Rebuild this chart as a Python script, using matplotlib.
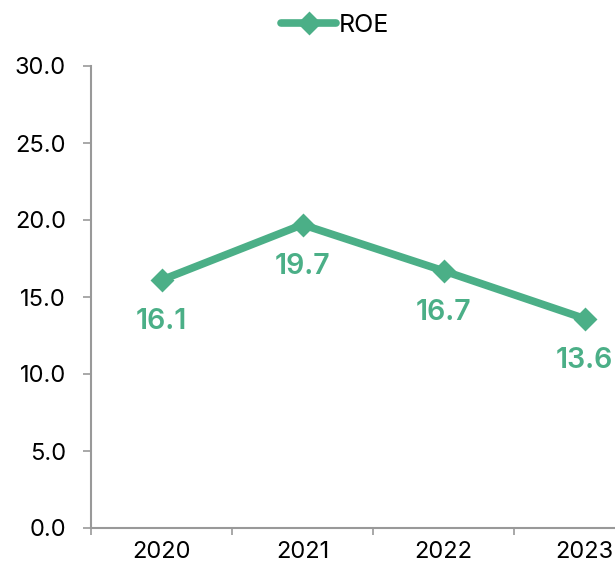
import matplotlib
matplotlib.use("Agg")
import matplotlib.pyplot as plt

years = ["2020", "2021", "2022", "2023"]
roe = [16.1, 19.7, 16.7, 13.6]
yticks = [0, 5, 10, 15, 20, 25, 30]

green = "#4BAF87"
plt.rcParams['font.family'] = ['Inter', 'DejaVu Sans']

fig = plt.figure(figsize=(6.15, 5.72), dpi=100)
W, H = 615, 572
left, right = 91, 655
bottom, top = 572 - 528, 572 - 66
ax = fig.add_axes([left / W, bottom / H, (right - left) / W, (top - bottom) / H])

x = list(range(len(years)))
ax.plot(x, roe, color=green, lw=5.5, marker="D", markersize=10,
        markerfacecolor=green, markeredgecolor=green, markeredgewidth=2,
        solid_capstyle="round", solid_joinstyle="round",
        label="ROE", clip_on=False, zorder=3)

for xi, v in zip(x, roe):
    ax.annotate(f"{v:.1f}", (xi, v), xytext=(0, -30), textcoords="offset points",
                ha="center", va="center", color=green, fontsize=20.5, fontweight="semibold")

ax.set_xlim(-0.5, 3.5)
ax.set_ylim(0, 30)
ax.set_yticks(yticks)
ax.set_yticklabels([f"{v:.1f}" for v in yticks], fontsize=17)
ax.set_xticks([-0.5, 0.5, 1.5, 2.5, 3.5])
ax.set_xticklabels([])
ax.set_xticks(x, minor=True)
ax.set_xticklabels(years, minor=True, fontsize=17)
ax.tick_params(axis="x", which="minor", length=0, pad=9)
ax.tick_params(axis="x", which="major", length=5, color="#999999", width=1.2)
ax.tick_params(axis="y", length=6, color="#999999", width=1.2, pad=12)

for s in ["top", "right"]:
    ax.spines[s].set_visible(False)
for s in ["left", "bottom"]:
    ax.spines[s].set_color("#999999")
    ax.spines[s].set_linewidth(1.5)

fig.legend(loc="upper center", bbox_to_anchor=(0.545, 1.015), frameon=False,
           fontsize=18, handlelength=2.2, handletextpad=0.1)

fig.savefig("out.png", dpi=100)
